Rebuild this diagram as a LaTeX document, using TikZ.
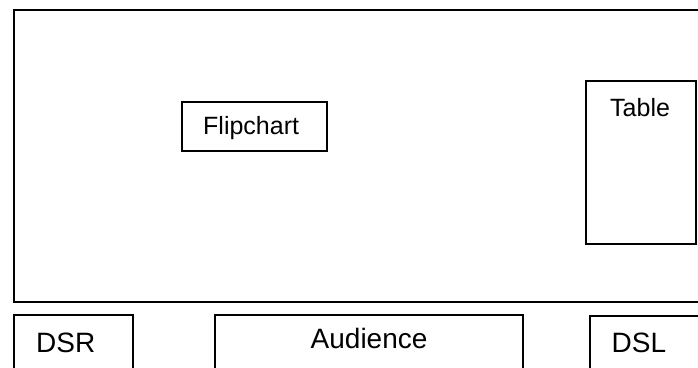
\documentclass[tikz,border=0pt]{standalone}
\usepackage{fontspec}
\setmainfont{Liberation Sans}
\begin{document}
\begin{tikzpicture}[x=1pt,y=-1pt,
  room/.style={draw, line width=2pt},
  box/.style={draw, line width=1.1pt, rectangle, inner sep=0pt},
  lblsmall/.style={inner sep=0pt, anchor=base west, font=\fontsize{25}{29}\selectfont},
  lblbig/.style={inner sep=0pt, anchor=base west, font=\fontsize{28}{33}\selectfont}]
  \useasboundingbox (0,0) rectangle (698,367);
  % room outline (runs off the right side)
  \draw[room] (14,10.3) rectangle (710,301.5);
  % furniture inside the room
  \node[box, minimum width=145pt, minimum height=49pt] (flip) at (254.5,126.5) {};
  \node[box, minimum width=110pt, minimum height=163pt] (table) at (641,162.5) {};
  % seating below the room (runs off the bottom edge)
  \node[box, minimum width=119pt, minimum height=65pt] (dsr) at (73.5,347.5) {};
  \node[box, minimum width=308pt, minimum height=65pt] (aud) at (369,347.5) {};
  \node[box, minimum width=130pt, minimum height=64pt] (dsl) at (655,348) {};
  % labels
  \node[lblsmall] (flipt) at (203,134) {Flipchart};
  \node[lblsmall] (tablet) at (610,116.7) {Table};
  \node[lblbig] (dsrt) at (36,352.3) {DSR};
  \node[lblbig] (audt) at (310.5,348.3) {Audience};
  \node[lblbig] (dslt) at (611.5,352.3) {DSL};
\end{tikzpicture}
\end{document}
